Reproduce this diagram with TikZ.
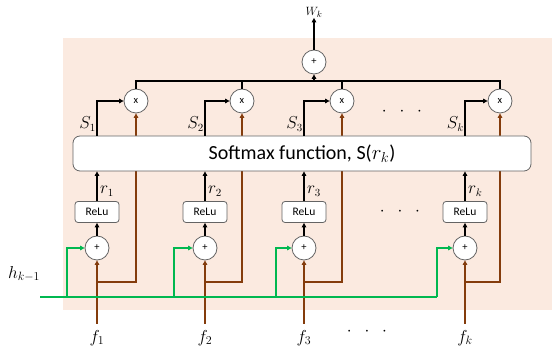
\documentclass[tikz,border=0pt]{standalone}
\usepackage{fontspec}
\setmainfont{Carlito}
\usetikzlibrary{arrows.meta}
\definecolor{bgpink}{RGB}{251,234,224}
\definecolor{brownc}{RGB}{132,60,12}
\definecolor{greenc}{RGB}{0,184,80}
\definecolor{circgray}{RGB}{100,100,100}
\tikzset{
  circ/.style={circle, draw=circgray, line width=0.8pt, fill=white, minimum size=24pt, inner sep=0pt, font=\fontsize{10.5}{10.5}\selectfont},
  relu/.style={rectangle, rounded corners=3pt, draw=circgray, line width=0.8pt, fill=white, minimum width=44pt, minimum height=21pt, inner sep=0pt, font=\fontsize{11.5}{11.5}\selectfont},
  smbox/.style={rectangle, rounded corners=7pt, draw=circgray, line width=0.8pt, fill=white, minimum width=458pt, minimum height=35pt, inner sep=0pt, font=\fontsize{20}{20}\selectfont},
  blk/.style={draw=black, line width=1.3pt},
  brn/.style={draw=brownc, line width=1.8pt},
  grn/.style={draw=greenc, line width=1.8pt},
  tip/.style={-{Triangle[length=4.5pt,width=4.5pt]}},
  lab/.style={inner sep=1pt, font=\fontsize{16}{16}\selectfont},
  flab/.style={inner sep=1pt, font=\fontsize{17}{17}\selectfont},
  dots/.style={inner sep=0pt, font=\fontsize{18}{18}\selectfont}
}
\begin{document}
\begin{tikzpicture}[x=1pt,y=-1pt]
\useasboundingbox (0,0) rectangle (552,352);
\fill[bgpink] (63,38) rectangle (552,310);

% plus circles (bottom)
\node[circ] (p1) at (97,248) {+};
\node[circ] (p2) at (205,248) {+};
\node[circ] (p3) at (304,248) {+};
\node[circ] (p4) at (465,248) {+};
% multiply circles (top)
\node[circ] (m1) at (136,101) {x};
\node[circ] (m2) at (242,101) {x};
\node[circ] (m3) at (342,101) {x};
\node[circ] (m4) at (500,101) {x};
% sum circle
\node[circ] (sum) at (314,62) {+};
\node[lab, font=\fontsize{13}{13}\selectfont, inner sep=0.5pt] (wk) at (314,12) {$W_k$};

% inputs
\node[flab] (f1) at (97,338) {$f_1$};
\node[flab] (f2) at (205,338) {$f_2$};
\node[flab] (f3) at (304,338) {$f_3$};
\node[flab] (f4) at (465,338) {$f_k$};
\node[flab] (h) at (24,274) {$h_{k-1}$};

\coordinate (fb1) at (97,324);
\coordinate (fb2) at (205,324);
\coordinate (fb3) at (304,324);
\coordinate (fb4) at (465,324);
\coordinate (b1) at (97,282);
\coordinate (b2) at (205,282);
\coordinate (b3) at (304,282);
\coordinate (b4) at (465,282);

% brown lines
\draw[brn,tip] (fb1) -- (p1.south);
\draw[brn,tip] (fb2) -- (p2.south);
\draw[brn,tip] (fb3) -- (p3.south);
\draw[brn,tip] (fb4) -- (p4.south);
\draw[brn,tip] (b1) -| (m1.south);
\draw[brn,tip] (b2) -| (m2.south);
\draw[brn,tip] (b3) -| (m3.south);
\draw[brn,tip] (b4) -| (m4.south);

% green lines
\coordinate (hs) at (40,297);
\coordinate (g1) at (67,297);
\coordinate (g2) at (174,297);
\coordinate (g3) at (276,297);
\coordinate (g4) at (437,297);
\draw[grn] (hs) -- (g4);
\draw[grn,tip] (g1) |- (p1.west);
\draw[grn,tip] (g2) |- (p2.west);
\draw[grn,tip] (g3) |- (p3.west);
\draw[grn,tip] (g4) |- (p4.west);

% relu boxes
\node[relu] (r1) at (97,212) {ReLu};
\node[relu] (r2) at (205,212) {ReLu};
\node[relu] (r3) at (304,212) {ReLu};
\node[relu] (r4) at (465,212) {ReLu};

% softmax box
\node[smbox] (sm) at (302,153.5) {Softmax function, S($r_k$)};

% black arrows plus -> relu -> softmax
\draw[blk,tip] (p1.north) -- (r1.south);
\draw[blk,tip] (p2.north) -- (r2.south);
\draw[blk,tip] (p3.north) -- (r3.south);
\draw[blk,tip] (p4.north) -- (r4.south);
\draw[blk,tip] (r1.north) -- (r1.north |- sm.south);
\draw[blk,tip] (r2.north) -- (r2.north |- sm.south);
\draw[blk,tip] (r3.north) -- (r3.north |- sm.south);
\draw[blk,tip] (r4.north) -- (r4.north |- sm.south);

% r labels
\node[lab, anchor=west] (lr1) at (99,191) {$r_1$};
\node[lab, anchor=west] (lr2) at (207,191) {$r_2$};
\node[lab, anchor=west] (lr3) at (306,191) {$r_3$};
\node[lab, anchor=west] (lr4) at (467,191) {$r_k$};

% S lines
\draw[blk,tip] (sm.north -| r1.north) |- (m1.west);
\draw[blk,tip] (sm.north -| r2.north) |- (m2.west);
\draw[blk,tip] (sm.north -| r3.north) |- (m3.west);
\draw[blk,tip] (sm.north -| r4.north) |- (m4.west);
\node[lab, anchor=east] (s1) at (97,124) {$S_1$};
\node[lab, anchor=east] (s2) at (205,124) {$S_2$};
\node[lab, anchor=east] (s3) at (304,124) {$S_3$};
\node[lab, anchor=east] (s4) at (465,124) {$S_k$};

% bus
\coordinate (bus) at (314,81);
\draw[blk] (m1.north) -- (m1.north |- bus) -- (m4.north |- bus) -- (m4.north);
\draw[blk] (m2.north) -- (m2.north |- bus);
\draw[blk] (m3.north) -- (m3.north |- bus);
\draw[blk,tip] (sum.south |- bus) -- (sum.south);
\draw[blk,tip] (sum.north) -- (wk.south);

% dots
\node[dots] (d1) at (402,112) {$\cdot\hspace{9pt}\cdot\hspace{9pt}\cdot$};
\node[dots] (d2) at (400,212) {$\cdot\hspace{9pt}\cdot\hspace{9pt}\cdot$};
\node[dots] (d3) at (367,332) {$\cdot\hspace{9pt}\cdot\hspace{9pt}\cdot$};
\end{tikzpicture}
\end{document}
